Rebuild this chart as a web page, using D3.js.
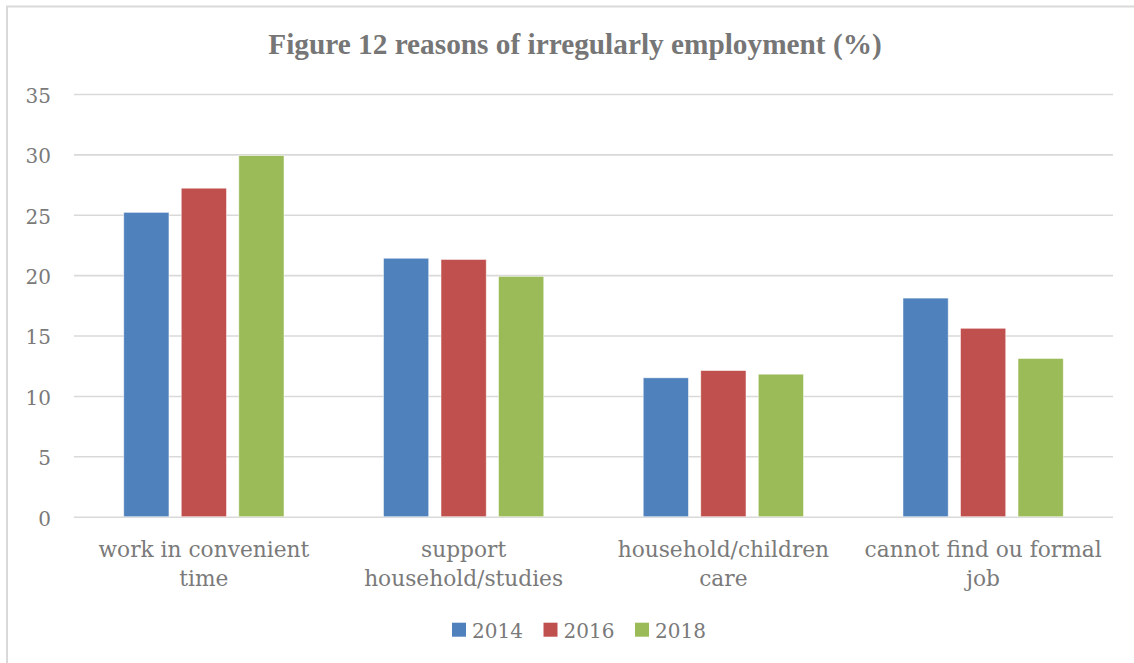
<!DOCTYPE html>
<html>
<head>
<meta charset="utf-8">
<script src="https://cdn.jsdelivr.net/npm/d3@7"></script>
<style>
  html, body { margin: 0; padding: 0; background: #fff; }
  svg { display: block; }
</style>
</head>
<body>
<svg id="chart" width="1134" height="663"></svg>
<script>
// Reasons for irregular employment, share of respondents (%)
const categories = [
  "work in convenient\ntime",
  "support\nhousehold/studies",
  "household/children\ncare",
  "cannot find ou formal\njob"
];
const years = ["2014", "2016", "2018"];
const values2014 = [25.2, 21.4, 11.5, 18.1];
const values2016 = [27.2, 21.3, 12.1, 15.6];
const values2018 = [29.9, 19.9, 11.8, 13.1];
const yTicks = [0, 5, 10, 15, 20, 25, 30, 35];
const titleText = "Figure 12 reasons of irregularly employment (%)";

const seriesValues = { "2014": values2014, "2016": values2016, "2018": values2018 };
const colors = { "2014": "#4f81bd", "2016": "#c0504d", "2018": "#9bbb59" };

const FONT = "'DejaVu Serif', 'Liberation Serif', serif";
const TITLE_FONT = "'Liberation Serif', 'DejaVu Serif', serif";
const TEXT_GREY = "#7a7a7a";

const svg = d3.select("#chart");

// chart frame
svg.append("rect")
  .attr("x", 7).attr("y", 6.5)
  .attr("width", 1200).attr("height", 800)
  .attr("fill", "#fff")
  .attr("stroke", "#d9d9d9")
  .attr("stroke-width", 2);

const plot = { left: 74, right: 1113, top: 94, bottom: 516.7 };

const x0 = d3.scaleBand()
  .domain(categories)
  .range([plot.left, plot.right])
  .paddingInner(0.383)
  .paddingOuter(0.1915);

const x1 = d3.scaleBand()
  .domain(years)
  .range([0, x0.bandwidth()])
  .paddingInner(0.214);

const y = d3.scaleLinear()
  .domain([0, 35])
  .range([plot.bottom, plot.top]);

// gridlines and value axis
const yAxis = svg.append("g")
  .attr("transform", `translate(${plot.left},0)`)
  .call(d3.axisLeft(y)
    .tickValues(yTicks)
    .tickSize(-(plot.right - plot.left))
    .tickPadding(23)
    .tickFormat(d3.format("d")));
yAxis.select(".domain").remove();
yAxis.selectAll(".tick line")
  .attr("stroke", "#d9d9d9")
  .attr("stroke-width", 1.6);
yAxis.selectAll(".tick text")
  .attr("fill", TEXT_GREY)
  .attr("font-family", FONT)
  .attr("font-size", 20)
  .attr("dy", "0.42em");

// bars
const groups = svg.append("g")
  .selectAll("g")
  .data(categories)
  .join("g")
  .attr("transform", d => `translate(${x0(d)},0)`);

groups.selectAll("rect")
  .data((d, i) => years.map(yr => ({ year: yr, value: seriesValues[yr][i] })))
  .join("rect")
  .attr("x", d => x1(d.year))
  .attr("y", d => y(d.value))
  .attr("width", x1.bandwidth())
  .attr("height", d => y(0) - y(d.value))
  .attr("fill", d => colors[d.year])
  .attr("stroke", "#ffffff")
  .attr("stroke-opacity", 0.6)
  .attr("stroke-width", 0.8);

// category axis labels
const xAxis = svg.append("g")
  .attr("transform", `translate(0,${plot.bottom})`)
  .call(d3.axisBottom(x0).tickSize(0).tickFormat(""));
xAxis.select(".domain").remove();

// size the category font so the first line spans its measured width
const probe = svg.append("text")
  .attr("font-family", FONT).attr("font-size", 20)
  .text("work in convenient");
const catSize = 20 * 211 / probe.node().getComputedTextLength();
probe.remove();

xAxis.selectAll(".tick").each(function(d) {
  const t = d3.select(this).append("text")
    .attr("fill", TEXT_GREY)
    .attr("font-family", FONT)
    .attr("font-size", catSize)
    .attr("text-anchor", "middle");
  d.split("\n").forEach((line, i) => {
    t.append("tspan")
      .attr("x", 0)
      .attr("y", 40.5 + i * 28.5)
      .text(line);
  });
});

// title
const title = svg.append("text")
  .attr("x", 575)
  .attr("y", 54)
  .attr("text-anchor", "middle")
  .attr("font-family", TITLE_FONT)
  .attr("font-weight", "bold")
  .attr("font-size", 26)
  .attr("fill", "#767676")
  .text(titleText);
const tw = title.node().getComputedTextLength();
title.attr("font-size", 26 * 614 / tw);

// legend
const legend = svg.append("g")
  .selectAll("g")
  .data(years)
  .join("g")
  .attr("transform", (d, i) => `translate(${452 + i * 91.5},622.7)`);
legend.append("rect")
  .attr("width", 14).attr("height", 14)
  .attr("fill", d => colors[d]);
legend.append("text")
  .attr("x", 20)
  .attr("y", 15)
  .attr("fill", TEXT_GREY)
  .attr("font-family", FONT)
  .attr("font-size", 20)
  .text(d => d);
</script>
</body>
</html>
